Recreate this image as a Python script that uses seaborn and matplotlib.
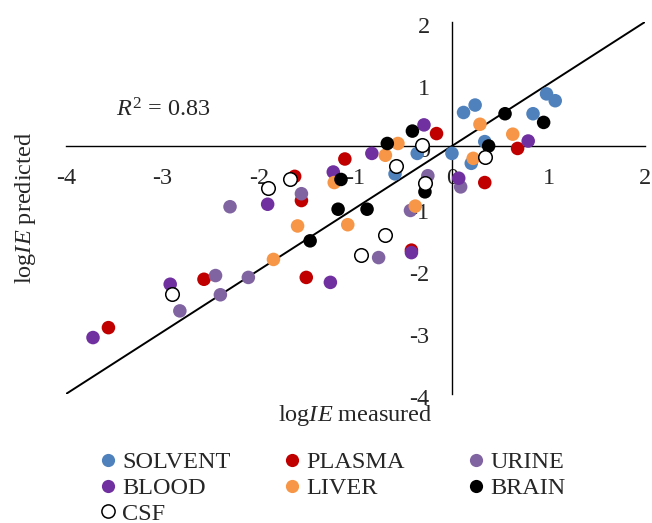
import numpy as np
import pandas as pd
import seaborn as sns
import matplotlib.pyplot as plt
import matplotlib.transforms as mtransforms
from matplotlib.lines import Line2D

# measured / predicted logIE per matrix
solvent_x = [0.12, 0.24, 0.98, 1.07, 0.84, 0.34, 0.00, 0.20, -0.36, -0.59]
solvent_y = [0.54, 0.66, 0.84, 0.73, 0.52, 0.07, -0.12, -0.28, -0.12, -0.45]

plasma_x = [-3.56, -2.57, -1.11, -1.63, -1.56, -1.51, -0.42, -0.16, 0.68, 0.34]
plasma_y = [-2.93, -2.15, -0.21, -0.49, -0.88, -2.12, -1.68, 0.20, -0.04, -0.59]

urine_x = [-2.82, -2.45, -2.40, -2.11, -2.30, -1.56, -0.76, -0.43, -0.25, 0.09]
urine_y = [-2.66, -2.09, -2.40, -2.12, -0.98, -0.77, -1.80, -1.04, -0.48, -0.66]

blood_x = [-3.72, -2.92, -1.91, -1.26, -1.23, -0.83, -0.42, -0.29, 0.07, 0.79]
blood_y = [-3.09, -2.23, -0.94, -2.20, -0.42, -0.12, -1.72, 0.34, -0.52, 0.08]

liver_x = [-1.85, -1.60, -1.08, -1.22, -0.69, -0.56, -0.38, 0.29, 0.63, 0.22]
liver_y = [-1.83, -1.29, -1.27, -0.59, -0.15, 0.04, -0.97, 0.35, 0.19, -0.20]

brain_x = [-1.47, -1.18, -0.88, -1.15, -0.67, -0.41, -0.28, 0.55, 0.95, 0.38]
brain_y = [-1.53, -1.02, -1.02, -0.54, 0.04, 0.24, -0.74, 0.52, 0.38, 0.00]

csf_x = [-2.90, -1.91, -1.68, -0.58, -0.69, -0.94, -0.28, -0.31, 0.34]
csf_y = [-2.38, -0.68, -0.53, -0.32, -1.44, -1.76, -0.59, 0.02, -0.18]

groups = ['SOLVENT', 'PLASMA', 'URINE', 'BLOOD', 'LIVER', 'BRAIN', 'CSF']
xs = [solvent_x, plasma_x, urine_x, blood_x, liver_x, brain_x, csf_x]
ys = [solvent_y, plasma_y, urine_y, blood_y, liver_y, brain_y, csf_y]
colors = {'SOLVENT': '#4F81BD', 'PLASMA': '#C00000', 'URINE': '#8064A2',
          'BLOOD': '#7030A0', 'LIVER': '#F79646', 'BRAIN': '#000000', 'CSF': 'white'}
r2_text = r'$\it{R}^2$ = 0.83'

df = pd.concat([pd.DataFrame({'measured': x, 'predicted': y, 'matrix': g})
                for g, x, y in zip(groups, xs, ys)], ignore_index=True)

sns.set_style('white')
plt.rcParams['font.family'] = ['Liberation Serif', 'DejaVu Serif']
plt.rcParams['mathtext.fontset'] = 'custom'
plt.rcParams['mathtext.rm'] = 'Liberation Serif'
plt.rcParams['mathtext.it'] = 'Liberation Serif:italic'
plt.rcParams['axes.unicode_minus'] = False
fs = 17.5

fig = plt.figure(figsize=(6.52, 5.23), dpi=100)
ax = fig.add_axes([0.1012, 0.2467, 0.888, 0.7113])

for g in groups:
    sub = df[df.matrix == g]
    edge = 'black' if g == 'CSF' else 'none'
    sns.scatterplot(data=sub, x='measured', y='predicted', color=colors[g],
                    edgecolor=edge, linewidth=1.1 if g == 'CSF' else 0,
                    s=95, ax=ax, zorder=3, legend=False)

# 1:1 line
ax.axline((0, 0), slope=1, color='black', lw=1.4, zorder=2)

ax.set_xlim(-4, 2)
ax.set_ylim(-4, 2)
ax.set_xticks(range(-4, 3))
ax.set_yticks(range(-4, 3))
for side in ['top', 'right']:
    ax.spines[side].set_visible(False)
ax.spines['left'].set_position(('data', 0))
ax.spines['bottom'].set_position(('data', 0))
for side in ['left', 'bottom']:
    ax.spines[side].set_color('black')
    ax.spines[side].set_linewidth(1.0)
ax.tick_params(axis='x', length=0, pad=16, labelsize=fs)
ax.tick_params(axis='y', length=0, pad=16, labelsize=fs)

# y labels sit a little low in the original
offset = mtransforms.ScaledTranslation(0, -3 / 100, fig.dpi_scale_trans)
for lab in ax.get_yticklabels():
    lab.set_transform(lab.get_transform() + offset)

ax.set_xlabel(r'log$\it{IE}$ measured', fontsize=fs)
ax.xaxis.set_label_coords(0.5, -0.024)
ax.set_ylabel(r'log$\it{IE}$ predicted', fontsize=fs)
ax.yaxis.set_label_coords(-0.049, 0.5)

ax.text(-3.48, 0.58, r2_text, fontsize=fs, ha='left', va='center')

# legend as three fixed-width columns, like the Excel original
def handle(g):
    return Line2D([], [], ls='none', marker='o', markersize=9.5,
                  markerfacecolor=colors[g],
                  markeredgecolor='black' if g == 'CSF' else colors[g],
                  markeredgewidth=1.1 if g == 'CSF' else 0)

columns = [['SOLVENT', 'BLOOD', 'CSF'], ['PLASMA', 'LIVER'], ['URINE', 'BRAIN']]
col_left = [0.156, 0.4382, 0.7204]
for names, left in zip(columns, col_left):
    fig.legend([handle(g) for g in names], names, loc='upper left',
               bbox_to_anchor=(left, 0.137), frameon=False, fontsize=fs,
               handlelength=0.55, handletextpad=0.3,
               labelspacing=0.15, borderpad=0, borderaxespad=0)

fig.savefig('out.png', dpi=100)
